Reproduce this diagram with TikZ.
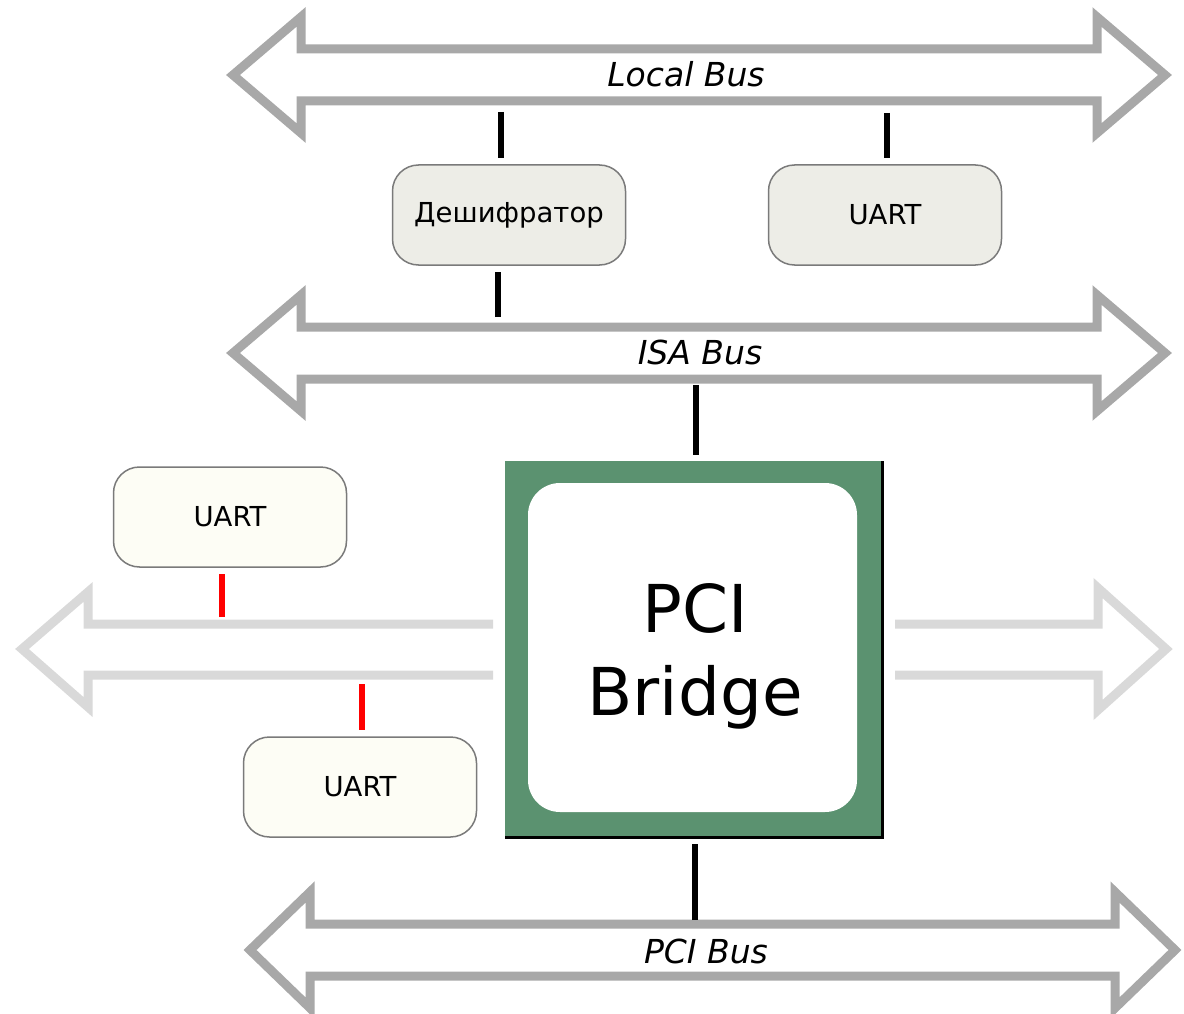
\documentclass[tikz,border=0pt]{standalone}
\usepackage{fontspec}
\setmainfont{DejaVu Sans}
\usetikzlibrary{calc}
\definecolor{busgray}{HTML}{A8A8A8}
\definecolor{buslight}{HTML}{D9D9D9}
\definecolor{chipgreen}{HTML}{5B9270}
\definecolor{boxgray}{HTML}{EDEDE7}
\definecolor{boxivory}{HTML}{FDFDF5}
\definecolor{boxline}{HTML}{7A7A7A}
% double-headed bus: style, y, left tip, right tip, head length
\newcommand{\dbus}[5]{%
    \draw[#1] (#3,#2) -- ++(#5,-58) -- ++(0,32) -- ({#4-#5},{#2-26}) -- ++(0,-32)
        -- (#4,#2) -- ({#4-#5},{#2+58}) -- ++(0,-32) -- ({#3+#5},{#2+26}) -- ++(0,32) -- cycle;
}
\tikzset{
    bus/.style={draw=busgray, line width=9pt, fill=white, line join=miter},
    lightbus/.style={draw=buslight, line width=9pt, line join=miter},
    busname/.style={font=\fontsize{33}{33}\selectfont\itshape},
    unit/.style={draw=boxline, line width=1.5pt, rounded corners=26pt,
        minimum width=233pt, minimum height=100pt, inner sep=0pt,
        font=\fontsize{27.5}{27.5}\selectfont},
    link/.style={line width=6pt, shorten >=6pt},
}

\begin{document}
\begin{tikzpicture}[x=1pt, y=-1pt]
        \useasboundingbox (0,0) rectangle (1184,1014);

        % buses
        \dbus{bus}{75}{233}{1165}{68}
        \dbus{bus}{353}{233}{1165}{68}
        \dbus{bus}{950}{250}{1175}{60}
        \node [busname] (localname) at (686,74) {Local Bus};
        \node [busname] (isaname) at (700,352) {ISA Bus};
        \node [busname] (pciname) at (706,951) {PCI Bus};

        \draw [lightbus] (493,624) -- (88,624) -- (88,592) -- (22,649) -- (88,707) -- (88,675) -- (493,675);
        \draw [lightbus] (895,624) -- (1098,624) -- (1098,588) -- (1166,649) -- (1098,710) -- (1098,675) -- (895,675);

        % units
        \node [unit, fill=boxgray] (dec) at (509,215) {Дешифратор};
        \node [unit, fill=boxgray] (uartA) at (885,215) {UART};
        \node [unit, fill=boxivory] (uartB) at (230,517) {UART};
        \node [unit, fill=boxivory] (uartC) at (360,787) {UART};

        % bridge
        \node [fill=chipgreen, minimum size=377pt, inner sep=0pt, outer sep=0pt] (bridge) at (693.5,649) {};
        \draw [line width=3pt] (bridge.south west) -- (bridge.south east) -- (bridge.north east);
        \node [fill=white, rounded corners=32pt, minimum size=329pt, inner sep=0pt] (core) at (692.5,647.5) {};
        \node [align=center, font=\fontsize{66}{83}\selectfont] (bridgename) at (695,656) {PCI\\Bridge};

        % taps
        \coordinate (lb-dec) at (501,112);
        \coordinate (lb-uart) at (887,113);
        \coordinate (isa-dec) at (498,317);
        \coordinate (isa-br) at (696,385);
        \coordinate (pci-br) at (695,920);
        \coordinate (mid-b) at (222,617);
        \coordinate (mid-c) at (362,684);

        \draw [link] (lb-dec) -- (lb-dec |- dec.north);
        \draw [link] (lb-uart) -- (lb-uart |- uartA.north);
        \draw [link] (isa-dec) -- (isa-dec |- dec.south);
        \draw [link] (isa-br) -- (isa-br |- bridge.north);
        \draw [link] (pci-br) -- (pci-br |- bridge.south);
        \draw [link, red] (mid-b) -- (mid-b |- uartB.south);
        \draw [link, red] (mid-c) -- (mid-c |- uartC.north);
    \end{tikzpicture}
\end{document}
